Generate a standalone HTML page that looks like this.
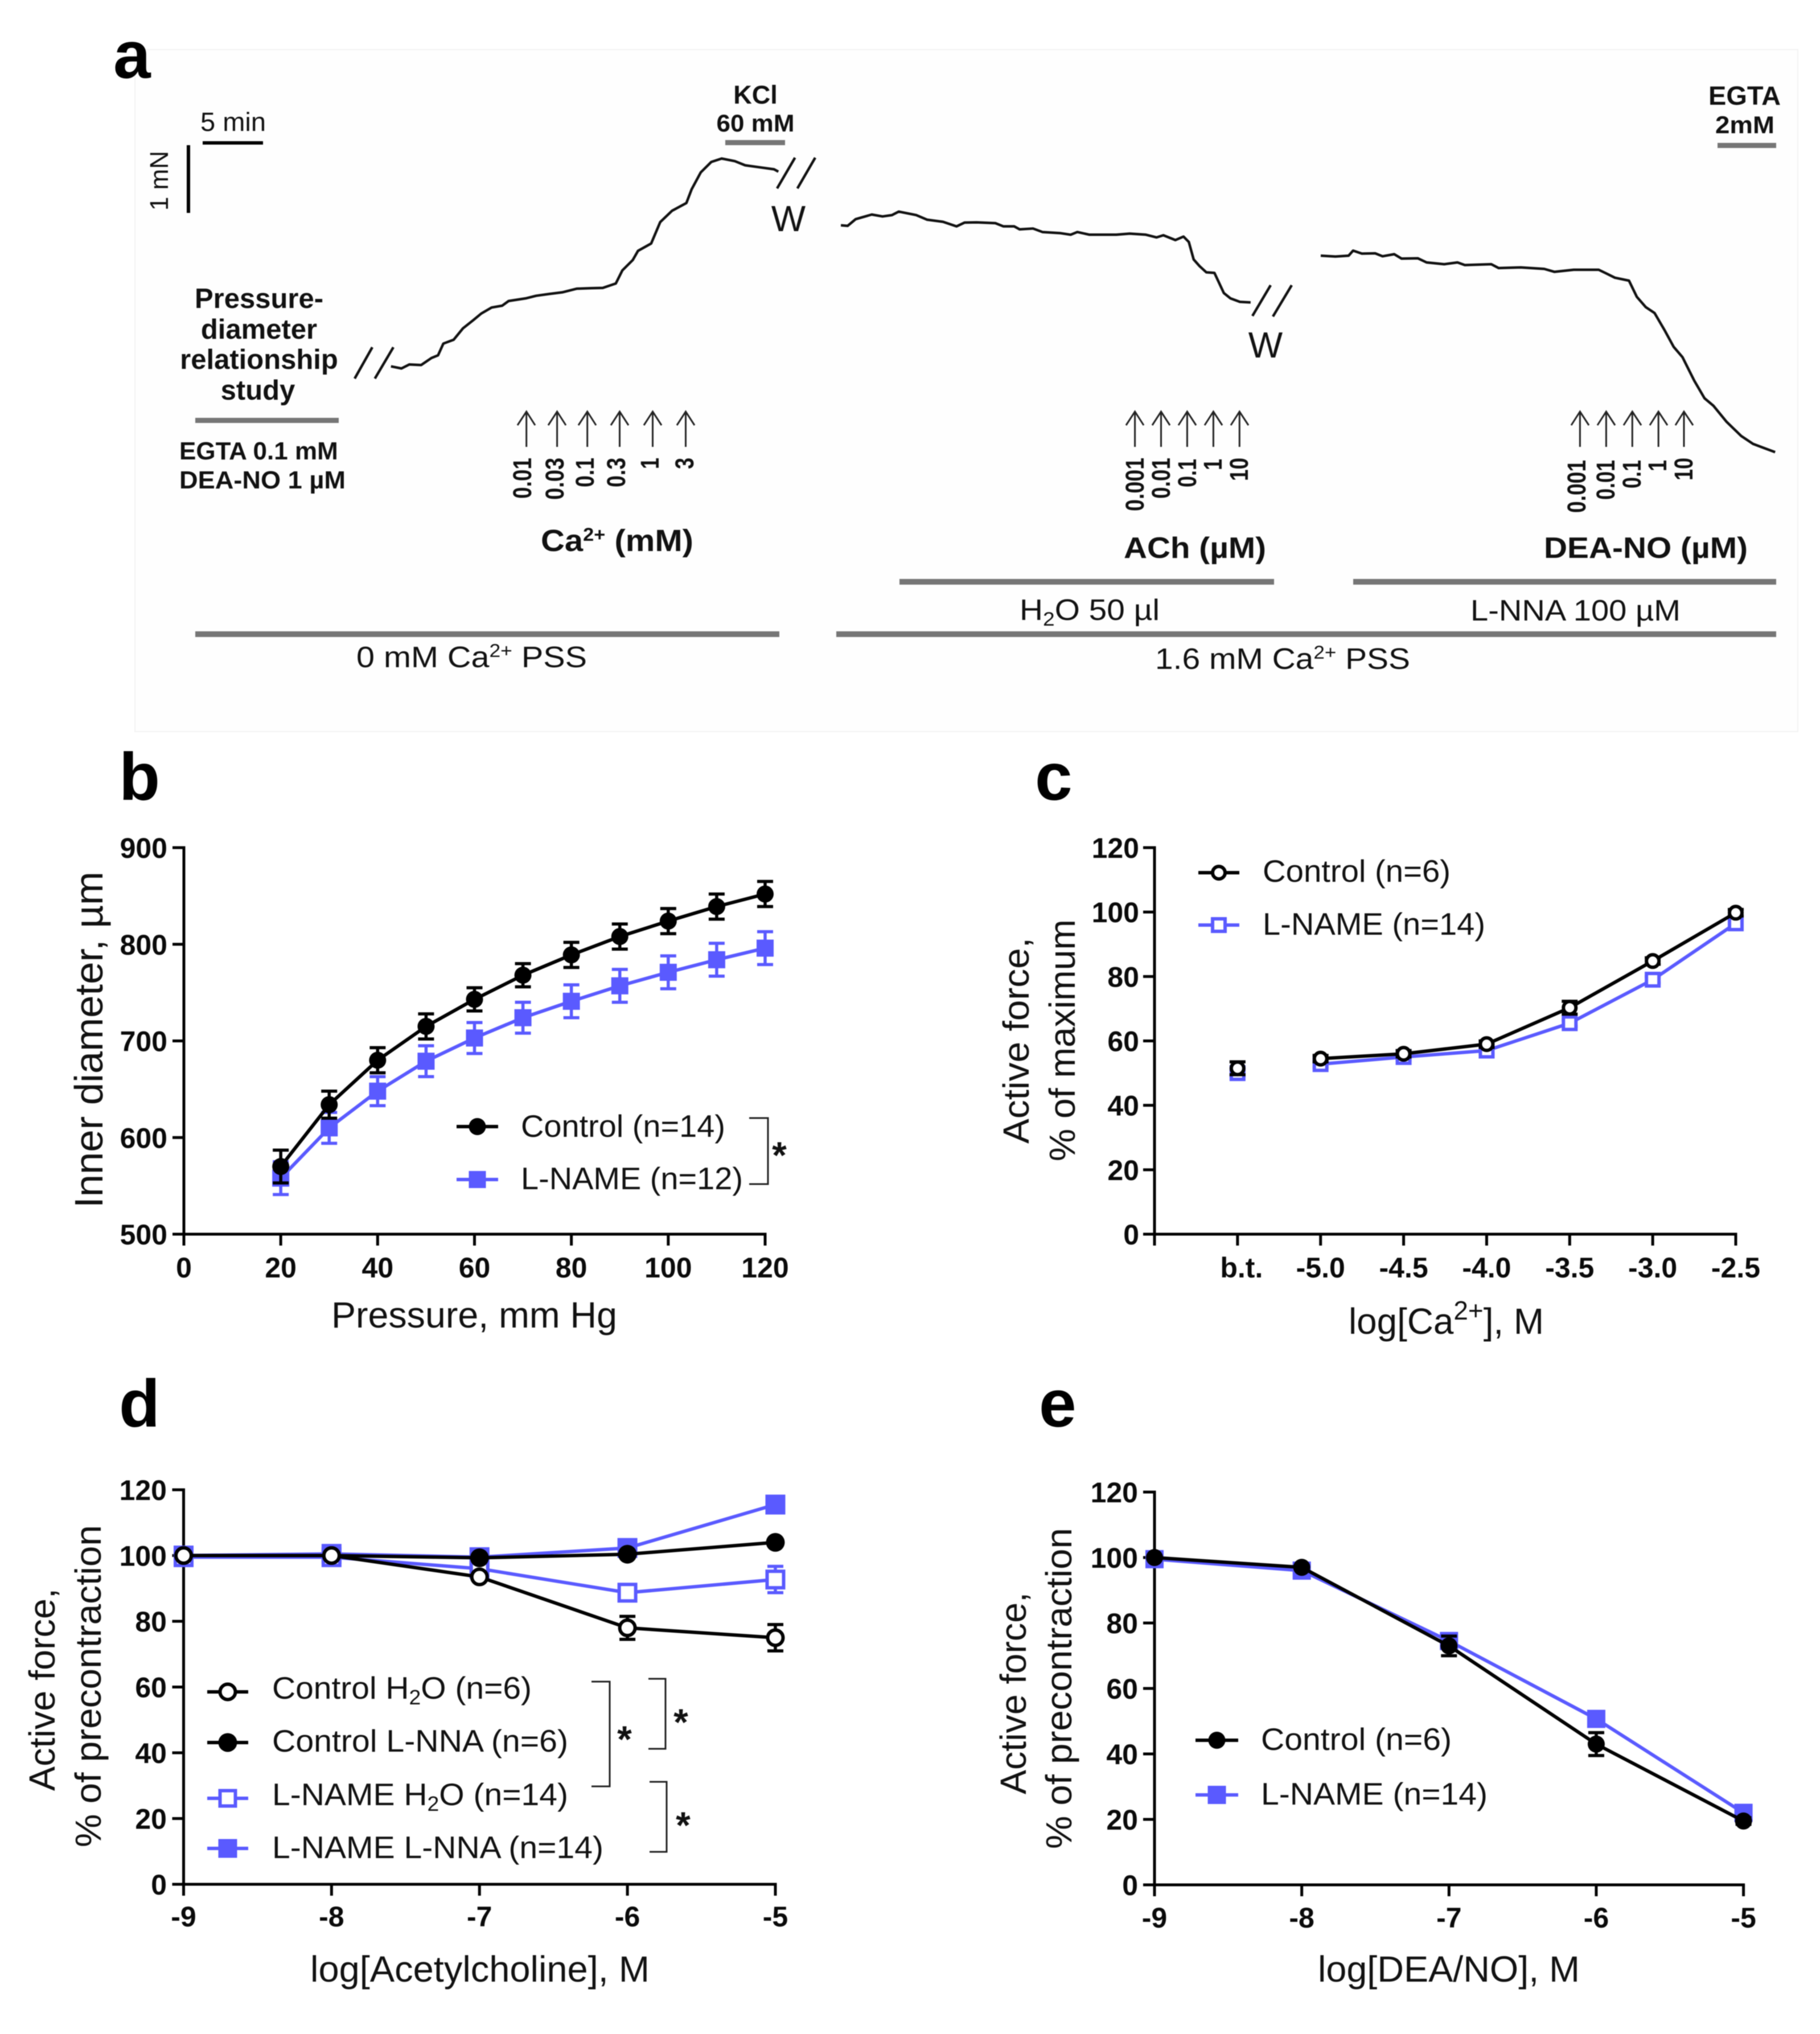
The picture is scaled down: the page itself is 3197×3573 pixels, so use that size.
<!DOCTYPE html>
<html>
<head>
<meta charset="utf-8">
<title>Vascular function figure</title>
<style>
html,body{margin:0;padding:0;background:#fff;width:3197px;height:3573px;overflow:hidden}
svg{display:block;filter:blur(0.8px)}
text{font-family:"Liberation Sans",sans-serif;fill:#111}
.b{font-weight:bold}
.tl{font-size:50px;font-weight:bold;fill:#0a0a0a}
.at{font-size:64px}
.lg{font-size:55px}
.pl{font-size:118px;font-weight:bold;fill:#000}
.dose{font-size:45px;font-weight:bold;text-anchor:end}
.br{fill:none;stroke:#222;stroke-width:3}
.gb{fill:#767676}
.arr{fill:none;stroke:#222;stroke-width:3}
.brk{stroke:#111;stroke-width:4.5;fill:none}
</style>
</head>
<body>
<svg id="fig" xmlns="http://www.w3.org/2000/svg" width="3197" height="3573" viewBox="0 0 3197 3573">
<rect x="0" y="0" width="3197" height="3573" fill="#fff"/>
<rect x="237" y="87" width="2921" height="1198" fill="#fefefe" stroke="#f3f3f3" stroke-width="2"/>

<text class="pl" x="199" y="137">a</text>
<text class="pl" x="209" y="1405">b</text>
<text class="pl" x="1818" y="1405">c</text>
<text class="pl" x="209" y="2506">d</text>
<text class="pl" x="1825" y="2506">e</text>

<g id="panelA">
<text x="352" y="230" font-size="46" textLength="115" lengthAdjust="spacingAndGlyphs">5 min</text>
<rect x="356" y="248" width="106" height="6" fill="#000"/>
<rect x="328" y="255" width="6" height="119" fill="#000"/>
<text transform="translate(295,370) rotate(-90)" font-size="45" textLength="105" lengthAdjust="spacingAndGlyphs">1 mN</text>

<text class="b" x="1327" y="182" font-size="45" text-anchor="middle">KCl</text>
<text class="b" x="1327" y="231" font-size="43" text-anchor="middle" textLength="137" lengthAdjust="spacingAndGlyphs">60 mM</text>
<rect class="gb" x="1274" y="246" width="105" height="9"/>

<path class="brk" d="M654 610L623 665M691 610L658.5 665"/>
<path class="brk" d="M1396.5 277L1365 331M1432 277L1400.7 331"/>
<path class="brk" d="M2232 501L2200 555M2269 501L2236 556"/>
<text x="1385" y="406" font-size="64" text-anchor="middle">W</text>
<text x="2223" y="628" font-size="64" text-anchor="middle">W</text>

<text class="b" x="455" y="541" font-size="49" text-anchor="middle">Pressure-</text>
<text class="b" x="455" y="595" font-size="49" text-anchor="middle">diameter</text>
<text class="b" x="455" y="648" font-size="49" text-anchor="middle">relationship</text>
<text class="b" x="453" y="702" font-size="49" text-anchor="middle">study</text>
<rect class="gb" x="343" y="734" width="252" height="9"/>
<text class="b" x="315" y="807" font-size="44">EGTA 0.1 mM</text>
<text class="b" x="315" y="858" font-size="44" textLength="292" lengthAdjust="spacingAndGlyphs">DEA-NO 1 µM</text>

<path class="arr" d="M924.7 785V723M909 747L924.7 723L940 747"/>
<path class="arr" d="M978.6 785V723M963 747L978.6 723L994 747"/>
<path class="arr" d="M1031.7 785V723M1016 747L1031.7 723L1047 747"/>
<path class="arr" d="M1088.5 785V723M1073 747L1088.5 723L1104 747"/>
<path class="arr" d="M1146.5 785V723M1131 747L1146.5 723L1162 747"/>
<path class="arr" d="M1204.5 785V723M1189 747L1204.5 723L1220 747"/>
<text class="dose" transform="translate(933,804) rotate(-90)" textLength="72" lengthAdjust="spacingAndGlyphs">0.01</text>
<text class="dose" transform="translate(990,804) rotate(-90)" textLength="74" lengthAdjust="spacingAndGlyphs">0.03</text>
<text class="dose" transform="translate(1043,804) rotate(-90)" textLength="52" lengthAdjust="spacingAndGlyphs">0.1</text>
<text class="dose" transform="translate(1098,804) rotate(-90)" textLength="52" lengthAdjust="spacingAndGlyphs">0.3</text>
<text class="dose" transform="translate(1157,804) rotate(-90)" textLength="20" lengthAdjust="spacingAndGlyphs">1</text>
<text class="dose" transform="translate(1218,804) rotate(-90)" textLength="20" lengthAdjust="spacingAndGlyphs">3</text>
<text class="b" x="950" y="968" font-size="54" textLength="268" lengthAdjust="spacingAndGlyphs">Ca<tspan dy="-18" font-size="32">2+</tspan><tspan dy="18"> (mM)</tspan></text>

<path class="arr" d="M1993.6 785V723M1978 747L1993.6 723L2009 747"/>
<path class="arr" d="M2039.5 785V723M2024 747L2039.5 723L2055 747"/>
<path class="arr" d="M2085.4 785V723M2070 747L2085.4 723L2101 747"/>
<path class="arr" d="M2131.4 785V723M2116 747L2131.4 723L2147 747"/>
<path class="arr" d="M2177.3 785V723M2162 747L2177.3 723L2193 747"/>
<text class="dose" transform="translate(2009,804) rotate(-90)" textLength="94" lengthAdjust="spacingAndGlyphs">0.001</text>
<text class="dose" transform="translate(2055,804) rotate(-90)" textLength="72" lengthAdjust="spacingAndGlyphs">0.01</text>
<text class="dose" transform="translate(2101,806) rotate(-90)" textLength="50" lengthAdjust="spacingAndGlyphs">0.1</text>
<text class="dose" transform="translate(2146,806) rotate(-90)" textLength="20" lengthAdjust="spacingAndGlyphs">1</text>
<text class="dose" transform="translate(2192,804) rotate(-90)" textLength="41" lengthAdjust="spacingAndGlyphs">10</text>
<text class="b" x="1974" y="980" font-size="52" textLength="250" lengthAdjust="spacingAndGlyphs">ACh (µM)</text>

<path class="arr" d="M2775.4 785V723M2760 747L2775.4 723L2791 747"/>
<path class="arr" d="M2821.4 785V723M2806 747L2821.4 723L2837 747"/>
<path class="arr" d="M2867.3 785V723M2852 747L2867.3 723L2883 747"/>
<path class="arr" d="M2913.2 785V723M2898 747L2913.2 723L2929 747"/>
<path class="arr" d="M2958 785V723M2943 747L2958 723L2974 747"/>
<text class="dose" transform="translate(2785,808) rotate(-90)" textLength="93" lengthAdjust="spacingAndGlyphs">0.001</text>
<text class="dose" transform="translate(2836,808) rotate(-90)" textLength="70" lengthAdjust="spacingAndGlyphs">0.01</text>
<text class="dose" transform="translate(2882,808) rotate(-90)" textLength="50" lengthAdjust="spacingAndGlyphs">0.1</text>
<text class="dose" transform="translate(2927,808) rotate(-90)" textLength="20" lengthAdjust="spacingAndGlyphs">1</text>
<text class="dose" transform="translate(2973,804) rotate(-90)" textLength="40" lengthAdjust="spacingAndGlyphs">10</text>
<text class="b" x="2712" y="980" font-size="52" textLength="358" lengthAdjust="spacingAndGlyphs">DEA-NO (µM)</text>

<text class="b" x="3001" y="184" font-size="46" textLength="127" lengthAdjust="spacingAndGlyphs">EGTA</text>
<text class="b" x="3013" y="234" font-size="43" textLength="104" lengthAdjust="spacingAndGlyphs">2mM</text>
<rect class="gb" x="3017" y="251" width="103" height="9"/>

<rect class="gb" x="1580" y="1017" width="658" height="10"/>
<rect class="gb" x="2377" y="1017" width="743" height="10"/>
<text x="1791" y="1089" font-size="52" textLength="246" lengthAdjust="spacingAndGlyphs">H<tspan dy="10" font-size="34">2</tspan><tspan dy="-10">O 50 µl</tspan></text>
<text x="2583" y="1090" font-size="52" textLength="369" lengthAdjust="spacingAndGlyphs">L-NNA 100 µM</text>
<rect class="gb" x="343" y="1109" width="1026" height="10"/>
<rect class="gb" x="1469" y="1109" width="1651" height="10"/>
<text x="626" y="1172" font-size="52" textLength="405" lengthAdjust="spacingAndGlyphs">0 mM Ca<tspan dy="-18" font-size="32">2+</tspan><tspan dy="18"> PSS</tspan></text>
<text x="2029" y="1175" font-size="52" textLength="448" lengthAdjust="spacingAndGlyphs">1.6 mM Ca<tspan dy="-18" font-size="32">2+</tspan><tspan dy="18"> PSS</tspan></text>
</g>

<g id="panelB">
<text transform="translate(180,2122) rotate(-90)" font-size="70" textLength="591" lengthAdjust="spacingAndGlyphs">Inner diameter, µm</text>
<text x="582" y="2332" class="at" textLength="502" lengthAdjust="spacingAndGlyphs">Pressure, mm Hg</text>
<text class="lg" x="915" y="1997" textLength="359" lengthAdjust="spacingAndGlyphs">Control (n=14)</text>
<text class="lg" x="915" y="2089" textLength="390" lengthAdjust="spacingAndGlyphs">L-NAME (n=12)</text>
<path class="br" d="M1316 1964H1349V2080H1316"/>
<text class="b" x="1369" y="2052" font-size="66" text-anchor="middle">*</text>
</g>

<g id="panelC">
<text class="at" transform="translate(1807,2009) rotate(-90)" textLength="362" lengthAdjust="spacingAndGlyphs">Active force,</text>
<text class="at" transform="translate(1888,2040) rotate(-90)" textLength="425" lengthAdjust="spacingAndGlyphs">% of maximum</text>
<text class="at" x="2369" y="2343" textLength="343" lengthAdjust="spacingAndGlyphs">log[Ca<tspan dy="-25" font-size="46">2+</tspan><tspan dy="25">], M</tspan></text>
<text class="lg" x="2218" y="1549" textLength="330" lengthAdjust="spacingAndGlyphs">Control (n=6)</text>
<text class="lg" x="2218" y="1642" textLength="391" lengthAdjust="spacingAndGlyphs">L-NAME (n=14)</text>
</g>

<g id="panelD">
<text class="at" transform="translate(96,3146) rotate(-90)" textLength="356" lengthAdjust="spacingAndGlyphs">Active force,</text>
<text class="at" transform="translate(177,3245) rotate(-90)" textLength="566" lengthAdjust="spacingAndGlyphs">% of precontraction</text>
<text class="at" x="545" y="3481" textLength="596" lengthAdjust="spacingAndGlyphs">log[Acetylcholine], M</text>
<text class="lg" x="478" y="2984" textLength="456" lengthAdjust="spacingAndGlyphs">Control H<tspan dy="10" font-size="36">2</tspan><tspan dy="-10">O (n=6)</tspan></text>
<text class="lg" x="478" y="3077" textLength="520" lengthAdjust="spacingAndGlyphs">Control L-NNA (n=6)</text>
<text class="lg" x="478" y="3171" textLength="520" lengthAdjust="spacingAndGlyphs">L-NAME H<tspan dy="10" font-size="36">2</tspan><tspan dy="-10">O (n=14)</tspan></text>
<text class="lg" x="478" y="3264" textLength="582" lengthAdjust="spacingAndGlyphs">L-NAME L-NNA (n=14)</text>
<path class="br" d="M1039 2954H1071V3138H1039"/>
<path class="br" d="M1139 2949H1169V3072H1139"/>
<path class="br" d="M1141 3130H1171V3253H1141"/>
<text class="b" x="1097" y="3078" font-size="66" text-anchor="middle">*</text>
<text class="b" x="1196" y="3048" font-size="66" text-anchor="middle">*</text>
<text class="b" x="1200" y="3229" font-size="66" text-anchor="middle">*</text>
</g>

<g id="panelE">
<text class="at" transform="translate(1802,3152) rotate(-90)" textLength="355" lengthAdjust="spacingAndGlyphs">Active force,</text>
<text class="at" transform="translate(1882,3248) rotate(-90)" textLength="564" lengthAdjust="spacingAndGlyphs">% of precontraction</text>
<text class="at" x="2315" y="3481" textLength="460" lengthAdjust="spacingAndGlyphs">log[DEA/NO], M</text>
<text class="lg" x="2215" y="3074" textLength="335" lengthAdjust="spacingAndGlyphs">Control (n=6)</text>
<text class="lg" x="2215" y="3170" textLength="398" lengthAdjust="spacingAndGlyphs">L-NAME (n=14)</text>
</g>
</svg>

<script>
// Panel a: myograph traces (minutes, mN)
const trace1Time = [22.96,23.83,24.48,25.46,26.32,26.86,27.30,28.16,28.92,29.79,30.44,31.30,32.17,32.71,34.12,34.99,36.07,37.15,38.34,39.53,40.51,41.59,42.13,43.00,43.43,44.52,45.27,46.25,47.44,47.87,48.63,49.50,50.36,51.45,52.31,53.61,54.70,55.06];
const trace1Force = [0.157,0.126,0.185,0.177,0.282,0.321,0.496,0.554,0.722,0.846,0.943,1.033,1.060,1.130,1.169,1.208,1.235,1.259,1.313,1.321,1.325,1.391,1.585,1.741,1.877,1.986,2.305,2.473,2.589,2.792,3.045,3.200,3.251,3.212,3.150,3.118,3.091,3.056];
const trace2Time = [60.24,60.80,61.47,62.80,63.69,64.47,65.03,66.48,67.37,68.70,69.82,70.48,71.49,73.04,73.71,74.60,75.05,76.16,76.94,78.39,79.28,79.83,80.84,83.06,84.17,85.51,86.40,86.96,87.96,88.63,89.07,89.47,89.96,90.52,91.19,91.97,92.52,93.30,94.19];
const trace2Force = [2.257,2.249,2.349,2.417,2.389,2.409,2.461,2.409,2.341,2.309,2.241,2.297,2.301,2.289,2.241,2.241,2.197,2.209,2.157,2.141,2.117,2.157,2.117,2.117,2.133,2.117,2.077,2.109,2.037,2.089,2.009,1.749,1.649,1.557,1.549,1.249,1.169,1.117,1.109];
const trace3Time = [100,101.22,102.31,102.68,103.41,104.51,105.12,106.09,106.70,108.04,108.77,110.23,111.33,111.94,114.13,114.74,116.57,118.52,119.37,120.96,123.03,123.64,124.37,125.54,126.19,126.93,127.66,128.51,129.24,129.97,130.95,131.80,132.53,133.63,134.84,135.82,136.79,137.65];
const trace3Force = [1.805,1.792,1.805,1.880,1.836,1.840,1.796,1.827,1.761,1.766,1.704,1.678,1.704,1.665,1.678,1.621,1.630,1.608,1.564,1.595,1.595,1.542,1.477,1.433,1.192,1.039,0.951,0.689,0.448,0.295,-0.056,-0.318,-0.428,-0.669,-0.879,-0.997,-1.063,-1.120];

// Panel b
const bPressure = [20,30,40,50,60,70,80,90,100,110,120];
const bControl = [570,634,680,715,743,768,789,808,824,839,852];
const bControlErr = [17,14,13,13,12,12,13,13,13,13,13];
const bLname = [558,610,648,679,703,724,741,757,771,784,796];
const bLnameErr = [17,16,15,16,16,16,17,17,17,17,17];
const bXTicks = [0,20,40,60,80,100,120];
const bYTicks = [500,600,700,800,900];

// Panel c
const cCategories = ['','b.t.','-5.0','-4.5','-4.0','-3.5','-3.0','-2.5'];
const cPositions = [1,2,3,4,5,6,7];
const cControl = [51.5,54.5,56,59,70.3,84.8,99.8];
const cControlErr = [2,1,1,1,2,1,1];
const cLname = [50,52.8,55,57,65.5,79,96.5];
const cLnameErr = [1,1,1,1,1,1,1];
const cYTicks = [0,20,40,60,80,100,120];

// Panel d
const dLogAch = [-9,-8,-7,-6,-5];
const dControlH2o = [100,100,93.5,78,75];
const dControlH2oErr = [0.5,0.5,1,3.5,4];
const dControlLnna = [100,100,99.3,100.4,104];
const dControlLnnaErr = [0.5,0.5,1,1,1];
const dLnameH2o = [99.5,99.5,96,88.7,92.7];
const dLnameH2oErr = [0.5,0.5,1,2,4];
const dLnameLnna = [100,100.5,99.5,102.3,115.5];
const dLnameLnnaErr = [0.5,0.5,1,1,1];
const dXTicks = [-9,-8,-7,-6,-5];
const dYTicks = [0,20,40,60,80,100,120];

// Panel e
const eLogDea = [-9,-8,-7,-6,-5];
const eControl = [100,97,73,43,19.5];
const eControlErr = [0.5,0.5,3,3.5,1];
const eLname = [99.5,96,74.5,50.7,22];
const eLnameErr = [0.5,0.5,1,1,1];
const eXTicks = [-9,-8,-7,-6,-5];
const eYTicks = [0,20,40,60,80,100,120];

const BLUE = '#5a5aff';
const BLACK = '#000000';
const NS = 'http://www.w3.org/2000/svg';

function linear(d0, d1, r0, r1) {
  return function (v) { return r0 + (v - d0) * (r1 - r0) / (d1 - d0); };
}
function make(parent, tag, attrs) {
  const el = document.createElementNS(NS, tag);
  Object.keys(attrs).forEach(function (k) { el.setAttribute(k, attrs[k]); });
  parent.appendChild(el);
  return el;
}
function drawAxes(g, x, y, xTicks, xLabels, yTicks, yLabelX, xLabelY) {
  const x0 = x(xTicks[0]), x1 = x(xTicks[xTicks.length - 1]);
  const y0 = y(yTicks[0]), y1 = y(yTicks[yTicks.length - 1]);
  let el = make(g, 'line', {x1: x0, x2: x0, y1: y1 - 2.5, y2: y0 + 2.5, stroke: '#000', 'stroke-width': 5});
  
  
  el = make(g, 'line', {x1: x0 - 2.5, x2: x1 + 2.5, y1: y0, y2: y0, stroke: '#000', 'stroke-width': 5});
  
  
  yTicks.forEach(function (t) {
    let tick = make(g, 'line', {x1: x0 - 20, x2: x0, y1: y(t), y2: y(t), stroke: '#000', 'stroke-width': 5});
    
    
    let lab = make(g, 'text', {x: yLabelX, y: y(t) + 18, 'text-anchor': 'end', 'class': 'tl'});
    lab.textContent = String(t);
    
    
  });
  xTicks.forEach(function (t, i) {
    let tick = make(g, 'line', {x1: x(t), x2: x(t), y1: y0, y2: y0 + 20, stroke: '#000', 'stroke-width': 5});
    
    
    let shift = xLabels[i] === 'b.t.' ? 7 : 0;
    let lab = make(g, 'text', {x: x(t) + shift, y: xLabelY, 'text-anchor': 'middle', 'class': 'tl'});
    lab.textContent = xLabels[i];
    
    
  });
}
function drawMarker(g, cx, cy, color, shape, open, size) {
  const half = size / 2;
  let m;
  if (shape === 'circle') {
    m = make(g, 'circle', {cx: cx, cy: cy, r: open ? half - 3 : half, fill: open ? '#fff' : color, stroke: open ? color : 'none', 'stroke-width': open ? 6 : 0});
  } else {
    m = open
      ? make(g, 'rect', {x: cx - half + 3, y: cy - half + 3, width: size - 6, height: size - 6, fill: '#fff', stroke: color, 'stroke-width': 6})
      : make(g, 'rect', {x: cx - half, y: cy - half, width: size, height: size, fill: color});
  }
  
  
}
function drawSeries(g, x, y, xs, ys, errs, color, shape, open, size, firstLinked) {
  const pts = xs.map(function (v, i) { return x(v) + ',' + y(ys[i]); }).slice(firstLinked);
  const line = make(g, 'polyline', {points: pts.join(' '), fill: 'none', stroke: color, 'stroke-width': 6, 'stroke-linejoin': 'round'});
  
  
  xs.forEach(function (v, i) {
    const cx = x(v), hi = y(ys[i] + errs[i]), lo = y(ys[i] - errs[i]);
    const err = make(g, 'path', {d: 'M' + (cx - 14) + ' ' + hi + 'H' + (cx + 14) + 'M' + cx + ' ' + hi + 'V' + lo + 'M' + (cx - 14) + ' ' + lo + 'H' + (cx + 14), fill: 'none', stroke: color, 'stroke-width': 5.5});
    
    
  });
  xs.forEach(function (v, i) {
    drawMarker(g, x(v), y(ys[i]), color, shape, open, size);
  });
}
function drawLegendKey(g, x0, x1, cy, color, shape, open, size) {
  const line = make(g, 'line', {x1: x0, x2: x1, y1: cy, y2: cy, stroke: color, 'stroke-width': 6});
  
  
  drawMarker(g, (x0 + x1) / 2, cy, color, shape, open, size);
}
function drawTrace(g, times, forces) {
  const tx = linear(0, 1, 200, 221.2);
  const fy = linear(0, 1, 662.1, 544.1);
  const pts = times.map(function (t, i) { return tx(t) + ',' + fy(forces[i]); });
  const path = make(g, 'polyline', {points: pts.join(' '), fill: 'none', stroke: '#111', 'stroke-width': 4.5, 'stroke-linejoin': 'round'});
  
  
}

const gA = document.getElementById('panelA');
drawTrace(gA, trace1Time, trace1Force);
drawTrace(gA, trace2Time, trace2Force);
drawTrace(gA, trace3Time, trace3Force);

const gB = document.getElementById('panelB');
const bx = linear(0, 120, 323, 1344);
const by = linear(500, 900, 2168, 1489);
drawAxes(gB, bx, by, bXTicks, bXTicks.map(String), bYTicks, 294, 2244);
drawSeries(gB, bx, by, bPressure, bLname, bLnameErr, BLUE, 'square', false, 30, 0);
drawSeries(gB, bx, by, bPressure, bControl, bControlErr, BLACK, 'circle', false, 30, 0);
drawLegendKey(gB, 802, 875, 1979, BLACK, 'circle', false, 30);
drawLegendKey(gB, 802, 875, 2072, BLUE, 'square', false, 30);

const gC = document.getElementById('panelC');
const cx = linear(0, 7, 2028, 3049);
const cy = linear(0, 120, 2168, 1489);
drawAxes(gC, cx, cy, [0].concat(cPositions), cCategories, cYTicks, 2001, 2244);
drawSeries(gC, cx, cy, cPositions, cLname, cLnameErr, BLUE, 'square', true, 28, 1);
drawSeries(gC, cx, cy, cPositions, cControl, cControlErr, BLACK, 'circle', true, 28, 1);
drawLegendKey(gC, 2105, 2177, 1533, BLACK, 'circle', true, 28);
drawLegendKey(gC, 2105, 2177, 1625, BLUE, 'square', true, 28);

const gD = document.getElementById('panelD');
const dx = linear(-9, -5, 322.5, 1362);
const dy = linear(0, 120, 3310, 2617);
drawAxes(gD, dx, dy, dXTicks, dXTicks.map(String), dYTicks, 293, 3384);
drawSeries(gD, dx, dy, dLogAch, dLnameLnna, dLnameLnnaErr, BLUE, 'square', false, 35, 0);
drawSeries(gD, dx, dy, dLogAch, dLnameH2o, dLnameH2oErr, BLUE, 'square', true, 35, 0);
drawSeries(gD, dx, dy, dLogAch, dControlLnna, dControlLnnaErr, BLACK, 'circle', false, 33, 0);
drawSeries(gD, dx, dy, dLogAch, dControlH2o, dControlH2oErr, BLACK, 'circle', true, 33, 0);
drawLegendKey(gD, 364, 436, 2972, BLACK, 'circle', true, 33);
drawLegendKey(gD, 364, 436, 3061, BLACK, 'circle', false, 33);
drawLegendKey(gD, 364, 436, 3159, BLUE, 'square', true, 33);
drawLegendKey(gD, 364, 436, 3247, BLUE, 'square', false, 33);

const gE = document.getElementById('panelE');
const ex = linear(-9, -5, 2028, 3062.6);
const ey = linear(0, 120, 3311, 2621);
drawAxes(gE, ex, ey, eXTicks, eXTicks.map(String), eYTicks, 1999, 3386);
drawSeries(gE, ex, ey, eLogDea, eLname, eLnameErr, BLUE, 'square', false, 32, 0);
drawSeries(gE, ex, ey, eLogDea, eControl, eControlErr, BLACK, 'circle', false, 30, 0);
drawLegendKey(gE, 2100, 2175, 3057, BLACK, 'circle', false, 30);
drawLegendKey(gE, 2100, 2175, 3153, BLUE, 'square', false, 32);
</script>
</body>
</html>
